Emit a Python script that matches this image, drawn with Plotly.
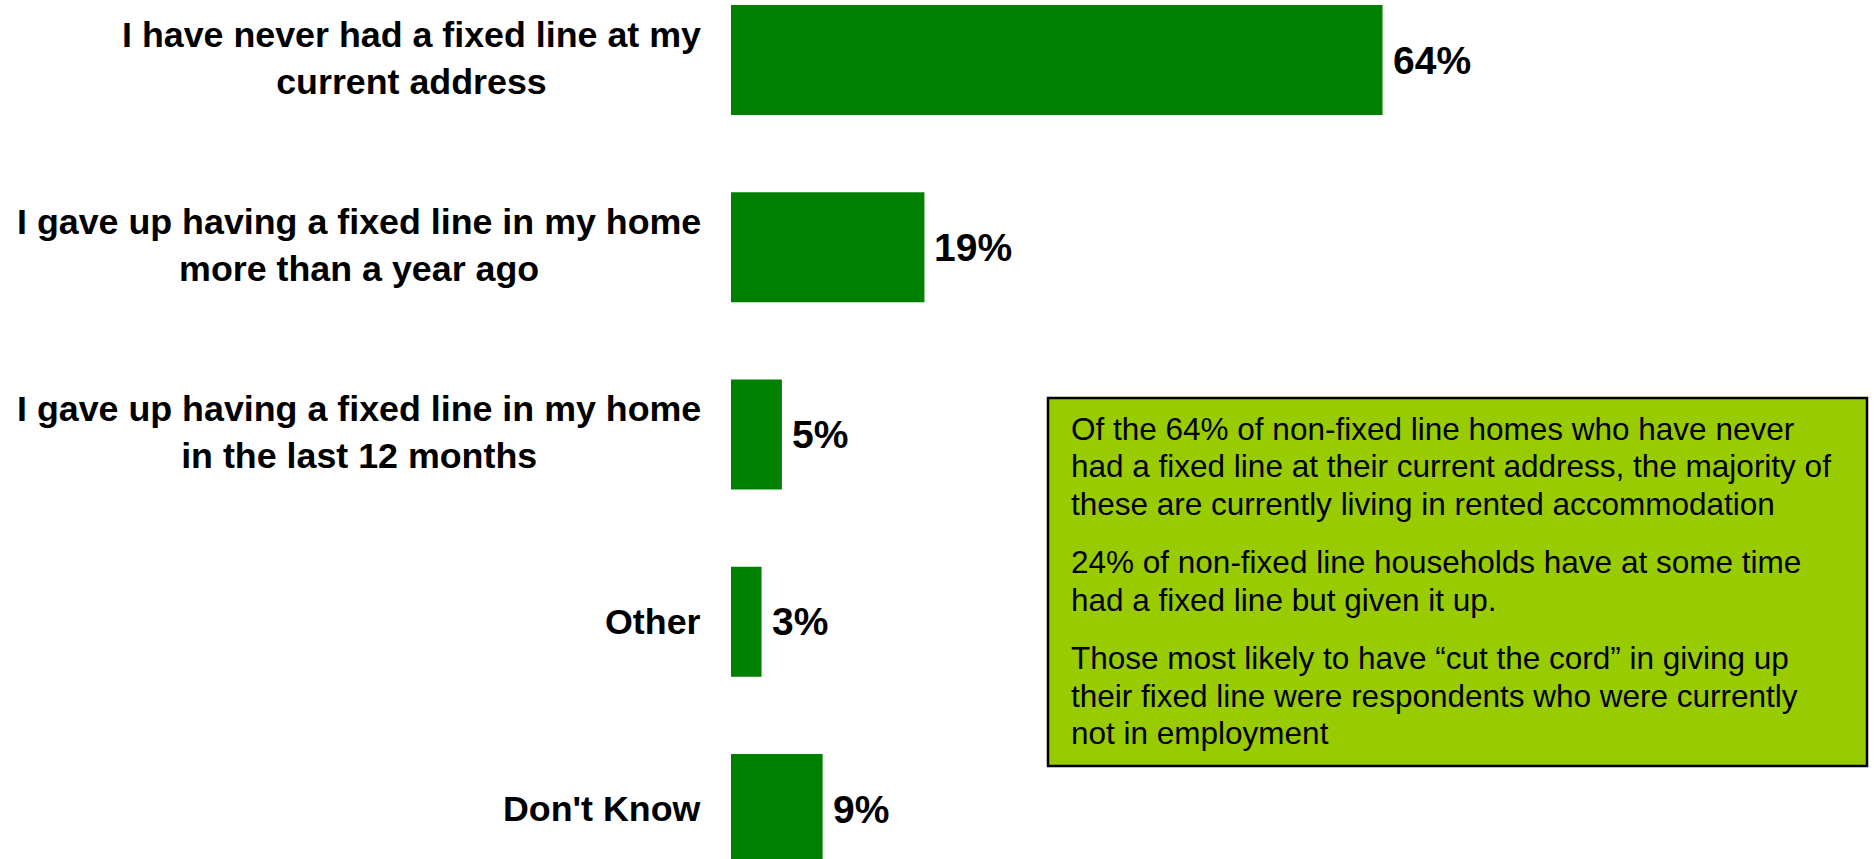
import plotly.graph_objects as go

W, H = 1874, 859

# Survey answers (top to bottom) and their shares in percent
categories = [
    "I have never had a fixed line at my<br>current address",
    "I gave up having a fixed line in my home<br>more than a year ago",
    "I gave up having a fixed line in my home<br>in the last 12 months",
    "Other",
    "Don't Know",
]
values = [64, 19, 5, 3, 9]
value_labels = ["64%", "19%", "5%", "3%", "9%"]

# Commentary box, one entry per paragraph, one string per line
box_paragraphs = [
    ["Of the 64% of non-fixed line homes who have never",
     "had a fixed line at their current address, the majority of",
     "these are currently living in rented accommodation"],
    ["24% of non-fixed line households have at some time",
     "had a fixed line but given it up."],
    ["Those most likely to have \u201ccut the cord\u201d in giving up",
     "their fixed line were respondents who were currently",
     "not in employment"],
]

FONT = "Arial, 'Liberation Sans', sans-serif"
BAR_GREEN = "#008000"
BOX_GREEN = "#99CC00"

ypos = list(range(len(categories)))

fig = go.Figure(
    go.Bar(
        x=values,
        y=ypos,
        orientation="h",
        width=0.587,
        marker=dict(color=BAR_GREEN, line=dict(width=0)),
        hoverinfo="skip",
    )
)


def px_x(p):
    return p / W


def px_y(p):
    return 1 - p / H


annotations = []

# Category labels, centred per line, right edge just left of the bars
for i, cat in enumerate(categories):
    two_lines = "<br>" in cat
    annotations.append(dict(
        x=px_x(703), xref="paper", xanchor="right",
        y=i, yref="y", yanchor="middle", yshift=2 if two_lines else 0,
        text=cat, showarrow=False, align="center",
        font=dict(family=FONT, size=35.8, color="black", weight="bold"),
    ))

# Value labels at the end of each bar
for i, (v, lab) in enumerate(zip(values, value_labels)):
    annotations.append(dict(
        x=v, xref="x", xanchor="left", xshift=8,
        y=i, yref="y", yanchor="middle",
        text=lab, showarrow=False,
        font=dict(family=FONT, size=39, color="black", weight="bold"),
    ))

# Commentary text: line baselines in pixels
line_gap = 37.5
para_gap = 58.5
baseline = 440
box_font = 31.5
for p, lines in enumerate(box_paragraphs):
    if p > 0:
        baseline += para_gap - line_gap
    for line in lines:
        annotations.append(dict(
            x=px_x(1069), xref="paper", xanchor="left",
            y=px_y(baseline - 0.35 * box_font), yref="paper", yanchor="middle",
            text=line, showarrow=False, align="left",
            font=dict(family=FONT, size=box_font, color="black"),
        ))
        baseline += line_gap

fig.update_layout(
    width=W, height=H,
    margin=dict(l=0, r=0, t=0, b=0),
    paper_bgcolor="white",
    plot_bgcolor="white",
    showlegend=False,
    xaxis=dict(
        domain=[731 / W, 1],
        range=[0, (W - 731) / 10.18],
        visible=False,
        fixedrange=True,
    ),
    yaxis=dict(
        range=[4.267, -0.3204],
        visible=False,
        fixedrange=True,
    ),
    annotations=annotations,
    shapes=[dict(
        type="rect", xref="paper", yref="paper",
        x0=px_x(1048), x1=px_x(1867), y0=px_y(766), y1=px_y(398),
        fillcolor=BOX_GREEN, line=dict(color="black", width=2.5),
        layer="below",
    )],
)

fig.write_html("out.html", config={"displayModeBar": False})
